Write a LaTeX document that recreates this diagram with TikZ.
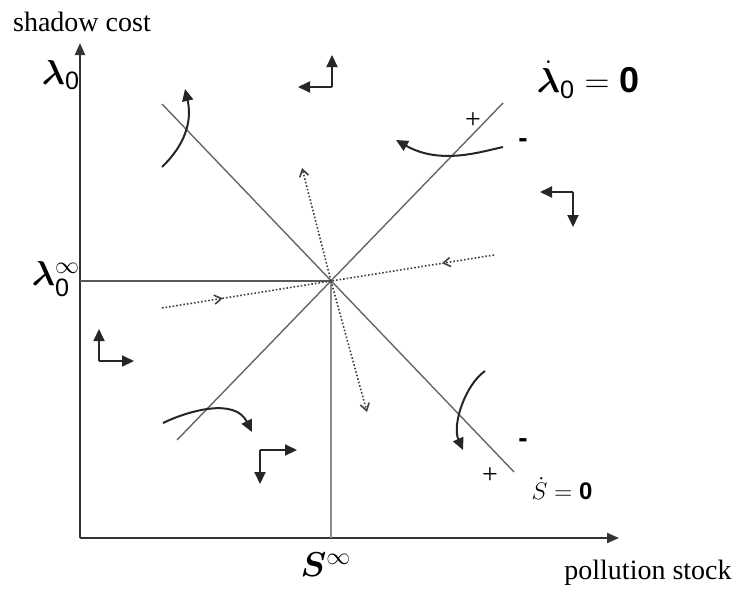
\documentclass[tikz,border=0pt]{standalone}
\usepackage{amsmath}
\usepackage{fontspec}
\setmainfont{Liberation Serif}
\setsansfont{Liberation Sans}
\usepackage{bm}
\usetikzlibrary{arrows.meta,decorations.markings}

\begin{document}
\begin{tikzpicture}[x=0.5pt,y=-0.5pt,
  point/.style={coordinate},
  axis/.style={draw=black!80, line width=1pt, -{Triangle[length=6pt,width=5pt]}},
  locus/.style={draw=black!60, line width=0.7pt},
  guide/.style={draw=black!45, line width=0.7pt},
  saddle/.style={draw=black!75, line width=0.8pt, densely dotted},
  flow/.style={draw=black!85, line width=1pt, -{Triangle[length=6pt,width=5.5pt]}},
  barb/.style={-{Straight Barb[length=3.5pt,width=4.5pt]}},
  midbarb/.style={postaction={decorate}, decoration={markings,
      mark=at position #1 with {\arrow{Straight Barb[length=3.5pt,width=4.5pt]}}}},
  lbl/.style={font=\fontsize{14}{16}\selectfont, inner sep=0pt},
  big/.style={font=\fontsize{18}{20}\selectfont, inner sep=0pt},
  sign/.style={font=\fontsize{14}{16}\selectfont, inner sep=0pt}]
\useasboundingbox (0,0) rectangle (737,589);
% axes
\node[point] (o)  at (80,538)  {};
\node[point] (yt) at (80,43)   {};
\node[point] (xt) at (619,538) {};
\draw[axis] (o) -- (yt);
\draw[axis] (o) -- (xt);
\node[lbl] (ylab) at (82,22)   {shadow cost};
\node[lbl] (xlab) at (648,573) {pollution stock};
% steady state and guide lines
\node[point] (c)  at (331,281) {};
\node[point] (gl) at (80,281)  {};
\node[point] (gb) at (331,538) {};
\draw[guide, draw=black!65] (gl) -- (c);
\draw[guide] (c) -- (gb);
\node[big] (lam)  at (61,75)   {$\bm{\lambda}_{\textsf{0}}$};
\node[big] (laminf) at (56,279) {$\bm{\lambda}_{\textsf{0}}^{\infty}$};
\node[big] (sinf) at (326,565) {$\bm{S}^{\infty}$};
% isoclines
\node[point] (l1) at (177,440) {};
\node[point] (l2) at (503,103) {};
\node[point] (s1) at (162,104) {};
\node[point] (s2) at (514,472) {};
\draw[locus] (l1) -- (l2);
\draw[locus] (s1) -- (s2);
\node[big] (lamdot) at (588,80) {$\dot{\bm{\lambda}}_{\textsf{0}}=\textsf{\bfseries 0}$};
\node[font=\fontsize{12}{14}\selectfont, inner sep=0pt] (sdot) at (562,489) {$\dot{S}=\textsf{\bfseries 0}$};
\node[sign] (p1) at (473,121) {+};
\node[sign] (m1) at (523,143) {\textsf{\bfseries -}};
\node[sign] (m2) at (523,443) {\textsf{\bfseries -}};
\node[sign] (p2) at (490,476) {+};
% saddle paths
\node[point] (a1) at (162,308) {};
\node[point] (a2) at (494,255) {};
\node[point] (u1) at (302,168) {};
\node[point] (u2) at (367,412) {};
\draw[saddle, midbarb=0.36] (a1) -- (c);
\draw[saddle, midbarb=0.32] (a2) -- (c);
\draw[saddle, barb] (c) -- (u1);
\draw[saddle, barb] (c) -- (u2);
% trajectories
\node[point] (t1) at (162,167) {};
\node[point] (t2) at (185,89)  {};
\node[point] (t3) at (503,147) {};
\node[point] (t4) at (396,140) {};
\node[point] (t5) at (163,423) {};
\node[point] (t6) at (252,432) {};
\node[point] (t7) at (485,371) {};
\node[point] (t8) at (463,450) {};
\draw[flow] (t1) .. controls (190,140) and (191,115) .. (t2);
\draw[flow] (t3) .. controls (480,152) and (440,165) .. (t4);
\draw[flow] (t5) .. controls (190,410) and (235,398) .. (t6);
\draw[flow] (t7) .. controls (465,385) and (452,425) .. (t8);
% phase arrows
\node[point] (q1)  at (332,87)  {};
\node[point] (q1u) at (332,55)  {};
\node[point] (q1l) at (298,87)  {};
\node[point] (q2)  at (573,192) {};
\node[point] (q2l) at (540,192) {};
\node[point] (q2d) at (573,227) {};
\node[point] (q3)  at (99,361)  {};
\node[point] (q3u) at (99,329)  {};
\node[point] (q3r) at (134,361) {};
\node[point] (q4)  at (260,450) {};
\node[point] (q4r) at (297,450) {};
\node[point] (q4d) at (260,484) {};
\draw[flow] (q1) -- (q1u);
\draw[flow] (q1) -- (q1l);
\draw[flow] (q2) -- (q2l);
\draw[flow] (q2) -- (q2d);
\draw[flow] (q3) -- (q3u);
\draw[flow] (q3) -- (q3r);
\draw[flow] (q4) -- (q4r);
\draw[flow] (q4) -- (q4d);
\end{tikzpicture}
\end{document}
